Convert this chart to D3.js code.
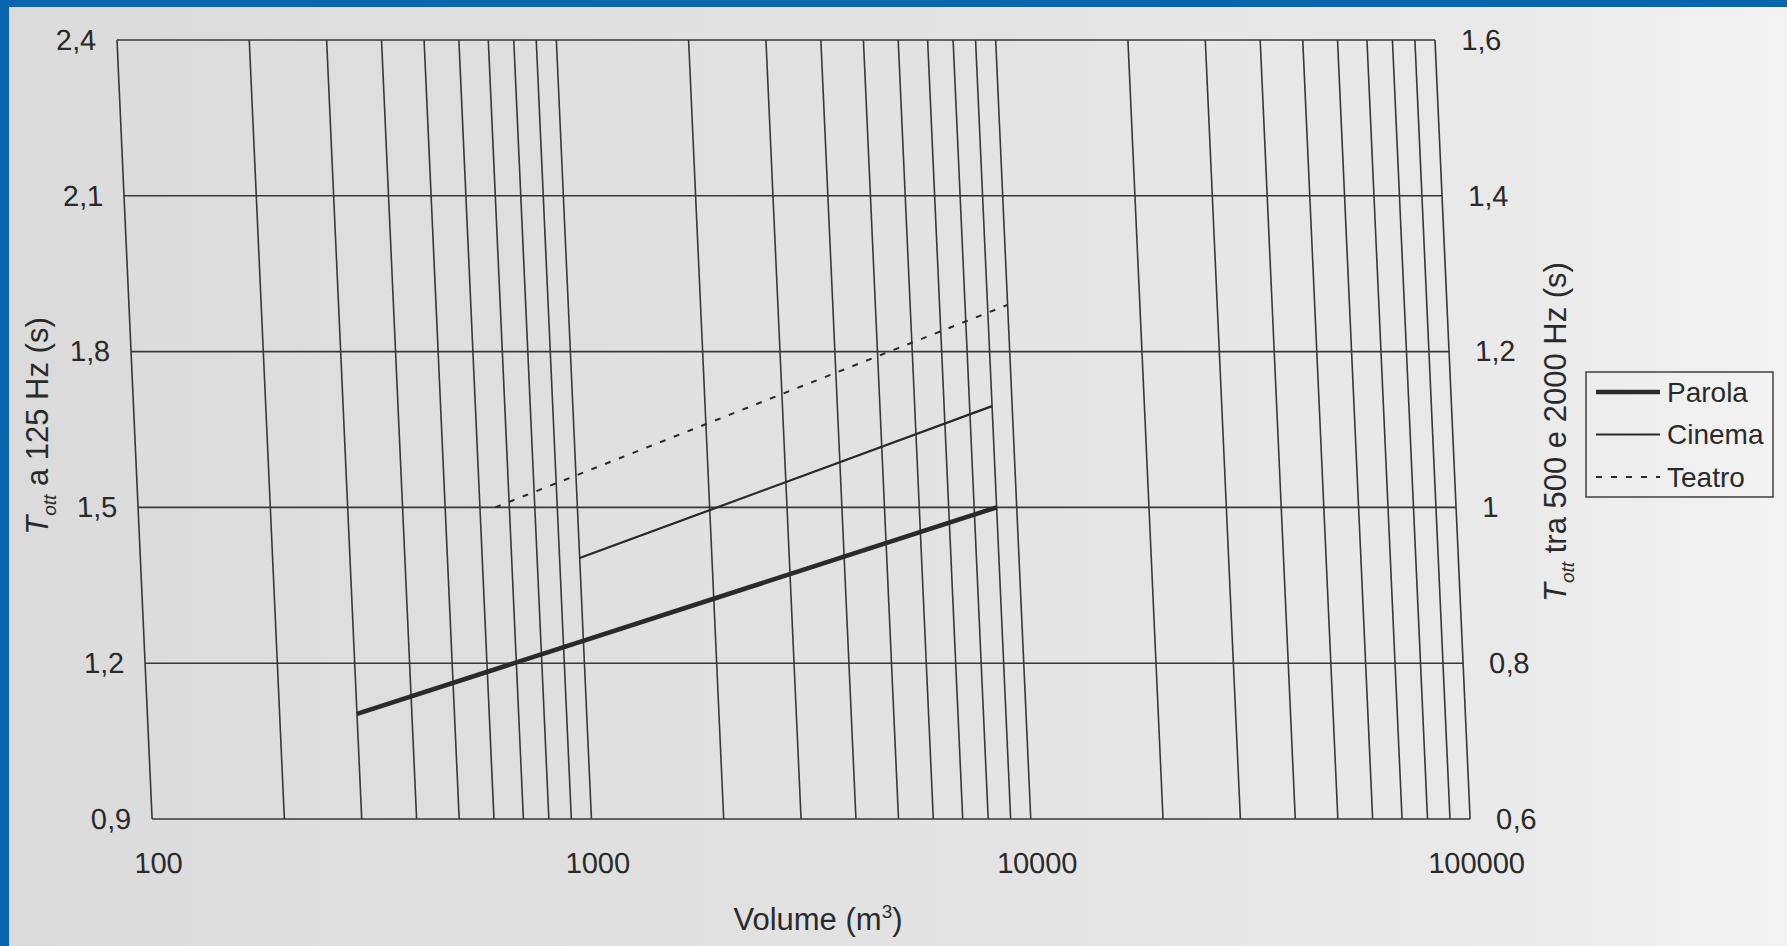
<!DOCTYPE html>
<html>
<head>
<meta charset="utf-8">
<script src="https://cdn.jsdelivr.net/npm/d3@7"></script>
<style>
  html, body { margin: 0; padding: 0; overflow: hidden; background: #e4e4e4; }
  svg { display: block; font-family: "Liberation Sans", Arial, sans-serif; }
</style>
</head>
<body>
<svg id="chart" width="1787" height="946"></svg>
<script>
// values: volume (m3) and T_ott 500-2000 Hz (s)
const parolaVolume = [300, 9000];
const parolaT = [0.735, 1.0];
const cinemaVolume = [1000, 9000];
const cinemaT = [0.935, 1.13];
const teatroVolume = [650, 10000];
const teatroT = [1.0, 1.26];

const seriesNames = ['Parola', 'Cinema', 'Teatro'];
const xTicks = [100, 1000, 10000, 100000];
const leftTicks = [0.9, 1.2, 1.5, 1.8, 2.1, 2.4];
const rightTicks = [0.6, 0.8, 1.0, 1.2, 1.4, 1.6];

const svg = d3.select('#chart');
const W = 1787, H = 946;
const margin = { left: 117, top: 40 };
const width = 1318, height = 779;
const ink = '#2a2a2a';

// paper
const defs = svg.append('defs');
const grad = defs.append('linearGradient').attr('id', 'paper');
grad.append('stop').attr('offset', '0').attr('stop-color', '#dbdbdb');
grad.append('stop').attr('offset', '0.5').attr('stop-color', '#e2e2e2');
grad.append('stop').attr('offset', '0.85').attr('stop-color', '#eaeaea');
grad.append('stop').attr('offset', '1').attr('stop-color', '#f3f3f3');
svg.append('rect').attr('width', W).attr('height', H).attr('fill', 'url(#paper)');
svg.append('rect').attr('width', 9).attr('height', H).attr('fill', '#0a65af');
svg.append('rect').attr('width', W).attr('height', 7).attr('fill', '#0a65af');

const fmt = d3.formatLocale({ decimal: ',', thousands: '.', grouping: [3], currency: ['', ''] }).format('~g');

const x = d3.scaleLog().domain([100, 100000]).range([0, width]);
const yL = d3.scaleLinear().domain([0.9, 2.4]).range([height, 0]);
const yR = d3.scaleLinear().domain([0.6, 1.6]).range([height, 0]);

// the photographed page is sheared a little
const g = svg.append('g')
  .attr('transform', 'translate(' + margin.left + ',' + margin.top + ') skewX(2.58)');

// grid
g.append('g').selectAll('line')
  .data(x.ticks())
  .enter().append('line')
  .attr('x1', d => x(d)).attr('x2', d => x(d))
  .attr('y1', 0).attr('y2', height)
  .attr('stroke', '#383838').attr('stroke-width', 1.6);

g.append('g').selectAll('line')
  .data(leftTicks)
  .enter().append('line')
  .attr('x1', 0).attr('x2', width)
  .attr('y1', d => yL(d)).attr('y2', d => yL(d))
  .attr('stroke', '#383838').attr('stroke-width', 1.6);

// axes (labels only)
function styleAxis(sel) {
  sel.select('.domain').remove();
  sel.attr('font-family', null).attr('font-size', 29);
  sel.selectAll('text').attr('fill', ink);
}

g.append('g')
  .call(d3.axisLeft(yL).tickValues(leftTicks).tickFormat(fmt).tickSize(0).tickPadding(21))
  .call(styleAxis);

g.append('g')
  .attr('transform', 'translate(' + width + ',0)')
  .call(d3.axisRight(yR).tickValues(rightTicks).tickFormat(fmt).tickSize(0).tickPadding(26))
  .call(styleAxis);

g.append('g')
  .attr('transform', 'translate(4,' + height + ')')
  .call(d3.axisBottom(x).tickValues(xTicks).tickFormat(d3.format('d')).tickSize(0).tickPadding(33))
  .call(styleAxis);

// series
const series = [
  { name: 'Parola', v: parolaVolume, t: parolaT, w: 4.6, dash: null },
  { name: 'Cinema', v: cinemaVolume, t: cinemaT, w: 2.2, dash: null },
  { name: 'Teatro', v: teatroVolume, t: teatroT, w: 2, dash: '6,9' }
];

const line = d3.line()
  .x(d => x(d[0]))
  .y(d => yR(d[1]));

g.append('g').selectAll('path')
  .data(series)
  .enter().append('path')
  .attr('d', s => line(d3.zip(s.v, s.t)))
  .attr('fill', 'none')
  .attr('stroke', ink)
  .attr('stroke-width', s => s.w)
  .attr('stroke-dasharray', s => s.dash);

// axis titles
const left = svg.append('text')
  .attr('transform', 'translate(37,426) rotate(-90)')
  .attr('text-anchor', 'middle').attr('dy', '0.35em')
  .attr('font-size', 31).attr('fill', ink);
left.append('tspan').attr('font-style', 'italic').text('T');
left.append('tspan').attr('font-style', 'italic').attr('font-size', 19).attr('dy', 8).text('ott');
left.append('tspan').attr('dy', -8).text(' a 125 Hz (s)');

const right = svg.append('text')
  .attr('transform', 'translate(1555,432) rotate(-90)')
  .attr('text-anchor', 'middle').attr('dy', '0.35em')
  .attr('font-size', 31).attr('fill', ink);
right.append('tspan').attr('font-style', 'italic').text('T');
right.append('tspan').attr('font-style', 'italic').attr('font-size', 19).attr('dy', 8).text('ott');
right.append('tspan').attr('dy', -8).text(' tra 500 e 2000 Hz (s)');

const bottom = svg.append('text')
  .attr('x', 818).attr('y', 919).attr('dy', '0.35em')
  .attr('text-anchor', 'middle')
  .attr('font-size', 31).attr('fill', ink);
bottom.append('tspan').text('Volume (m');
bottom.append('tspan').attr('font-size', 19).attr('dy', -12).text('3');
bottom.append('tspan').attr('dy', 12).text(')');

// legend
const legY = d3.scalePoint().domain(seriesNames).range([392, 477]);
const leg = svg.append('g');
leg.append('rect')
  .attr('x', 1586).attr('y', 372).attr('width', 187).attr('height', 125)
  .attr('fill', 'none').attr('stroke', '#4a4a4a').attr('stroke-width', 1.6);
const item = leg.selectAll('g.item')
  .data(series)
  .enter().append('g')
  .attr('class', 'item')
  .attr('transform', s => 'translate(0,' + legY(s.name) + ')');
item.append('line')
  .attr('x1', 1596).attr('x2', 1660)
  .attr('stroke', ink)
  .attr('stroke-width', s => s.w)
  .attr('stroke-dasharray', s => s.dash);
item.append('text')
  .attr('x', 1667).attr('dy', '0.35em')
  .attr('font-size', 28).attr('fill', ink)
  .text(s => s.name);
</script>
</body>
</html>
